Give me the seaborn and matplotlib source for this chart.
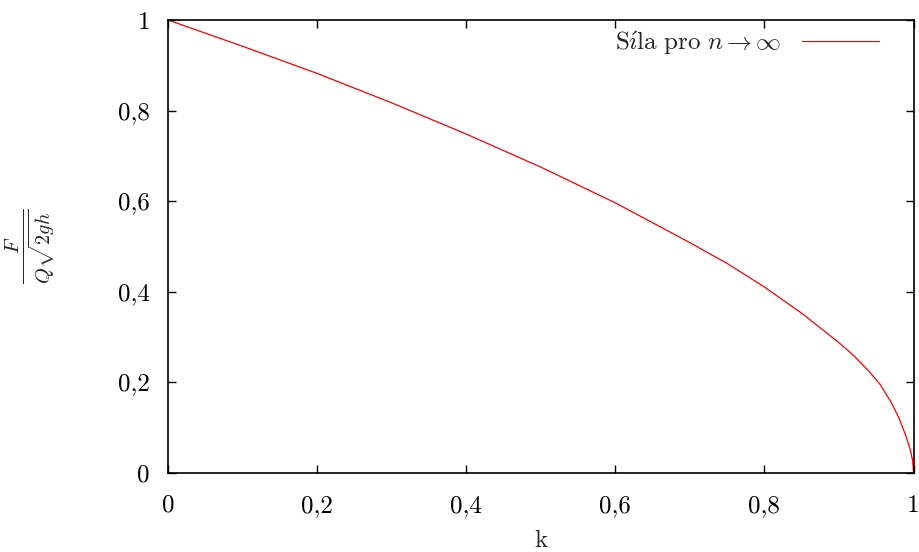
import matplotlib
matplotlib.use("Agg")
import matplotlib.pyplot as plt
import seaborn as sns
import pandas as pd

# Data
k_values = [0.0, 0.1, 0.2, 0.3, 0.4, 0.5, 0.6, 0.7, 0.75, 0.8,
            0.85, 0.9, 0.92, 0.94, 0.955, 0.97, 0.98, 0.99, 0.996, 0.999, 1.0]
force_values = [1.0, 0.942, 0.882, 0.817, 0.748, 0.675, 0.596,
                0.508, 0.462, 0.41, 0.352, 0.287, 0.258, 0.224, 0.195, 0.155, 0.122,
                0.08, 0.048, 0.025, 0.0]
x_ticks = [0, 0.2, 0.4, 0.6, 0.8, 1]
x_tick_labels = ["0", "0,2", "0,4", "0,6", "0,8", "1"]
y_ticks = [0, 0.2, 0.4, 0.6, 0.8, 1]
y_tick_labels = ["0", "0,2", "0,4", "0,6", "0,8", "1"]
series_label = r"$\mathrm{S\acute{\imath}la\ pro}\ n \to \infty$"

sns.set_theme(style="ticks")
plt.rcParams["font.family"] = ["cmr10", "DejaVu Serif"]
plt.rcParams["mathtext.fontset"] = "cm"
plt.rcParams["axes.unicode_minus"] = False

df = pd.DataFrame({"k": k_values, "F": force_values})

fig = plt.figure(figsize=(9.19, 5.52), dpi=100)
ax = fig.add_axes([168 / 919, 1 - 472.5 / 552, (913.5 - 168) / 919, (472.5 - 20) / 552])

sns.lineplot(data=df, x="k", y="F", color="#ff0000", linewidth=0.9,
             label=series_label, ax=ax)

ax.set_xlim(0, 1)
ax.set_ylim(0, 1)
ax.set_xticks(x_ticks)
ax.set_xticklabels(x_tick_labels)
ax.set_yticks(y_ticks)
ax.set_yticklabels(y_tick_labels)
ax.tick_params(direction="in", length=6, width=1.0, colors="black",
               top=True, right=True, labelsize=18)
ax.tick_params(axis="y", pad=13)
ax.tick_params(axis="x", pad=16)
for s in ax.spines.values():
    s.set_linewidth(1.2)
    s.set_color("black")

ax.set_xlabel("k", fontsize=18)
ax.xaxis.set_label_coords(0.5, (472.5 - 530) / 452.5)
ax.set_ylabel(r"$\frac{F}{Q\sqrt{2gh}}$", fontsize=21)
ax.yaxis.set_label_coords((57 - 168) / 745.5, 0.5)

leg = ax.legend(loc="upper right", bbox_to_anchor=((879 - 168) / 745.5, (472.5 - 29) / 452.5),
                frameon=False, markerfirst=False, handlelength=3.1, handletextpad=0.8,
                borderpad=0, borderaxespad=0, fontsize=18)

fig.savefig("out.png", dpi=100)
